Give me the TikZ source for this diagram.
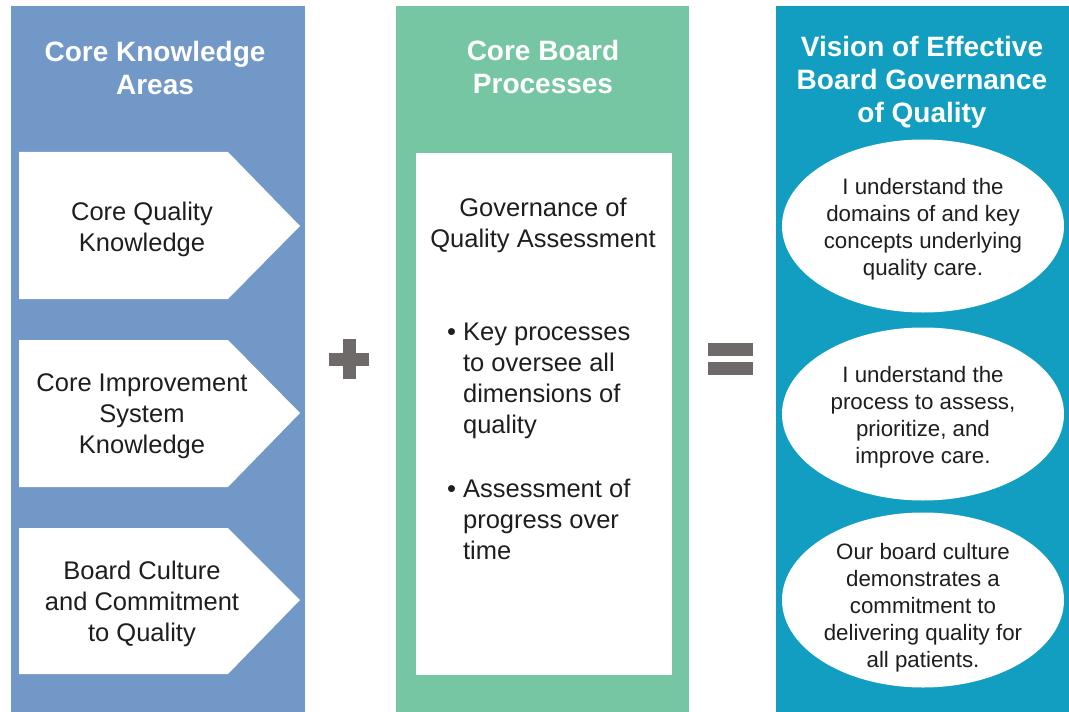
\documentclass[tikz,border=0pt]{standalone}
\usepackage{fontspec}
\setmainfont{Liberation Sans}
\usetikzlibrary{shapes.geometric}
\definecolor{colblue}{RGB}{113,152,199}
\definecolor{colgreen}{RGB}{118,198,163}
\definecolor{colteal}{RGB}{18,158,192}
\definecolor{opgray}{RGB}{110,106,106}
\definecolor{bodytext}{RGB}{30,30,30}
\tikzset{
  coltitle/.style={text=white, font=\fontsize{28bp}{33bp}\selectfont\bfseries, align=center, inner sep=0pt},
  bodylabel/.style={text=bodytext, font=\fontsize{25.5bp}{31bp}\selectfont, align=center, inner sep=0pt},
  ovallabel/.style={text=bodytext, font=\fontsize{22.3bp}{27bp}\selectfont, align=center, inner sep=0pt},
  oval/.style={ellipse, fill=white, draw=none, minimum width=282bp, minimum height=173bp, inner sep=0pt},
  arrowbox/.style={fill=white},
  opsign/.style={fill=opgray}
}
\begin{document}
\begin{tikzpicture}[x=1bp,y=-1bp]
\useasboundingbox (0,0) rectangle (1069,712);
\fill[white] (0,0) rectangle (1069,712);
% columns
\fill[colblue] (11,6) rectangle (305,712);
\fill[colgreen] (396,6) rectangle (689,712);
\fill[colteal] (776,6) rectangle (1069,712);
% titles
\node[coltitle] (t1) at (155,68) {Core Knowledge\\Areas};
\node[coltitle] (t2) at (543,67) {Core Board\\Processes};
\node[coltitle] (t3) at (922,82) {Vision of Effective\\Board Governance\\of Quality};
% arrow boxes
\fill[arrowbox] (19,152) -- (228,152) -- (300,226) -- (228,299) -- (19,299) -- cycle;
\fill[arrowbox] (19,340) -- (228,340) -- (300,413) -- (228,487) -- (19,487) -- cycle;
\fill[arrowbox] (19,528) -- (228,528) -- (300,600) -- (228,674) -- (19,674) -- cycle;
\node[bodylabel] (k1) at (142,229) {Core Quality\\Knowledge};
\node[bodylabel] (k2) at (142,416) {Core Improvement\\System\\Knowledge};
\node[bodylabel] (k3) at (142,604) {Board Culture\\and Commitment\\to Quality};
% middle white box
\fill[white] (416,153) rectangle (672,675);
\node[bodylabel] (gq) at (543,225) {Governance of\\Quality Assessment};
\node[bodylabel, anchor=west, align=left] (b1) at (447,381) {\begin{tabular}{@{}l@{\hspace{7bp}}l@{}}\textbullet & Key processes\\ & to oversee all\\ & dimensions of\\ & quality\end{tabular}};
\node[bodylabel, anchor=west, align=left] (b2) at (447,522) {\begin{tabular}{@{}l@{\hspace{7bp}}l@{}}\textbullet & Assessment of\\ & progress over\\ & time\end{tabular}};
% ellipses
\node[oval] (e1) at (923,226) {};
\node[oval] (e2) at (923,414) {};
\node[oval, minimum height=175bp] (e3) at (923,600) {};
\node[ovallabel] (v1) at (923,229.5) {I understand the\\domains of and key\\concepts underlying\\quality care.};
\node[ovallabel] (v2) at (923,417.5) {I understand the\\process to assess,\\prioritize, and\\improve care.};
\node[ovallabel] (v3) at (923,608) {Our board culture\\demonstrates a\\commitment to\\delivering quality for\\all patients.};
% plus sign
\fill[opsign] (329,353) rectangle (369,366);
\fill[opsign] (343,339) rectangle (356,379);
% equals sign
\fill[opsign] (708,343) rectangle (753,356);
\fill[opsign] (708,362) rectangle (753,375);
\end{tikzpicture}
\end{document}
